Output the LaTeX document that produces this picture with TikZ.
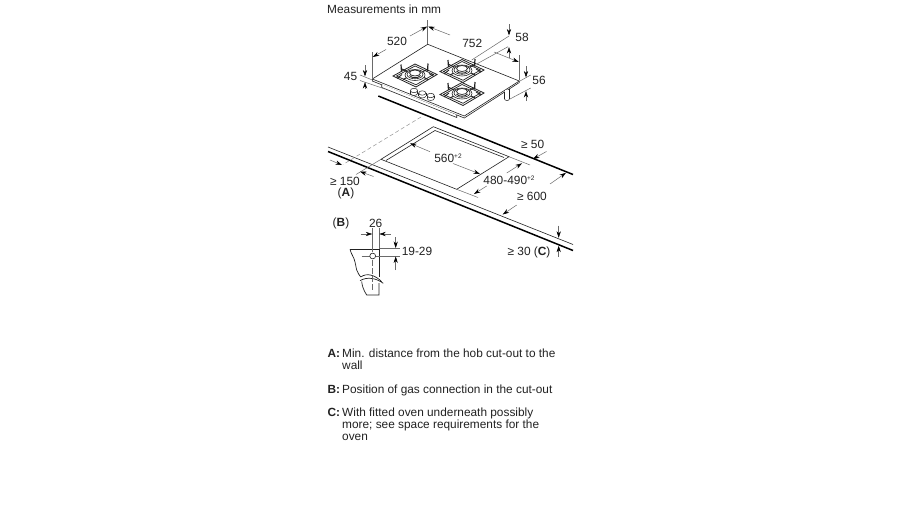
\documentclass[tikz,border=0pt]{standalone}
\usepackage{fontspec}
\setmainfont{Liberation Sans}
\usetikzlibrary{arrows.meta}
\definecolor{ink}{HTML}{222222}
\definecolor{dimc}{HTML}{6A6A6A}
\newcommand{\uppr}[1]{\raisebox{3.6pt}{\fontsize{6.5}{6.5}\selectfont #1}}
\newcommand{\burnerat}[2]{%
 \begin{scope}[shift={(#1,#2)}]
  \draw[hobl,fill=white,line width=.8pt] (-22,.5)--(0,-11.5)--(22,-1)--(1,11.5)--cycle;
  \draw[hobl,line width=.7pt] (-18.5,.5)--(0,-9.5)--(18.5,-1)--(1,9.3)--cycle;
  \draw[hobl,line width=1.1pt] (-13,-6.5)--(-7,-3.5) (13,-6.5)--(7,-3.5) (-12,4)--(-7,1.5) (13,4)--(8,1.5);
  \draw[hobl,line width=1.2pt] (-14,-11)--(-13.5,-4) (13,-12)--(12.5,-4.5);
  \draw[hobl,line width=.9pt] (-18,3)--(-13,-1) (19,1)--(14,-2);
  \draw[hobl,fill=white,line width=.6pt] (0,-.5) ellipse (10 and 5.5);
  \draw[hobl,fill=white,line width=.6pt] (0,-1) ellipse (8 and 4.3);
  \draw[hobl,fill=white,line width=.7pt] (0,-2.5) ellipse (5.5 and 3);
  \draw[hobl,line width=.9pt] (-5.5,0) .. controls (-3,3) and (3,3) .. (5.5,0);
 \end{scope}}
\newcommand{\knobat}[2]{%
 \draw[hobl,fill=white,line width=.5pt] (#1,#2+2.8) ellipse (3.6 and 2.2);
 \fill[white] (#1-3.6,#2) rectangle (#1+3.6,#2+2.8);
 \draw[hobl,line width=.5pt] (#1-3.6,#2)--(#1-3.6,#2+2.8) (#1+3.6,#2)--(#1+3.6,#2+2.8);
 \draw[hobl,fill=white,line width=.5pt] (#1,#2) ellipse (3.6 and 2.2);}
\tikzset{
 hobl/.style={draw=ink,line width=.6pt},
 dim/.style={draw=dimc,line width=.5pt},
 arr/.style={draw=dimc,line width=.5pt,-{Stealth[length=6.5pt,width=4.2pt,color=black]}},
 lab/.style={inner sep=0pt,text=ink,font=\fontsize{11.9}{12}\selectfont},
 leg/.style={inner sep=0pt,anchor=base west,text=ink,font=\fontsize{11.85}{12}\selectfont},
}
\begin{document}
\begin{tikzpicture}[x=1pt,y=-1pt]
\useasboundingbox (0,0) rectangle (900,506);
\fill[white] (0,0) rectangle (900,506);
\node[leg] (title) at (327,13.5) {Measurements in mm};
% worktop
\draw[black,line width=1.5pt] (378.3,96)--(573,174.5);
\draw[ink,line width=.6pt] (328,147)--(573,244.5);
\draw[black,line width=1.5pt] (328,151.5)--(573,250.5);
% dashed
\draw[dimc!70,line width=.5pt,dash pattern=on 4pt off 2.5pt] (421,117)--(343,164.5);
% hob
\draw[hobl,fill=white] (372.3,79)--(372.3,81)--(464.3,118)--(519.3,82.5)--(519.3,81)--(427.7,44.3)--cycle;
\draw[hobl] (372.3,79)--(464.3,116)--(519.3,81);
\draw[hobl,fill=white] (381.7,84.3)--(381.7,87.5)--(456.7,117.5)--(456.7,115);
% feet
\draw[hobl,fill=white,line width=.5pt] (507,99) ellipse (2.4 and 1.5);
\fill[white] (504.6,90) rectangle (509.4,99);
\draw[hobl,line width=.5pt] (504.6,92)--(504.6,99) (509.4,89)--(509.4,99);
\burnerat{415}{75.5}
\burnerat{462}{71}
\burnerat{462}{94}
\knobat{414}{90.5}
\knobat{422.3}{93}
\knobat{430.7}{95.5}
% dim 520
\draw[dim] (372.3,78)--(372.3,52) (427.7,44)--(427.7,20) (519.3,80)--(519.3,55);
\draw[arr] (386,49.5)--(372.8,57);
\draw[arr] (410,36)--(427.2,26.5);
\node[lab] (d520) at (397,41) {520};
% dim 752
\draw[arr] (450,35)--(428.2,26.5);
\draw[arr] (494,52)--(518.8,62);
\node[lab] (d752) at (472.3,43) {752};
% dim 58
\draw[dim] (471.7,60)--(509,36) (476.7,64)--(508,46.7);
\draw[arr] (509,24)--(509,35.5);
\draw[arr] (509,58)--(509,47);
\node[lab] (d58) at (522,37.5) {58};
% dim 45
\draw[dim] (360,75)--(372.3,80) (360,80.5)--(385,89);
\draw[arr] (365,65)--(365,76.5);
\draw[arr] (365,89)--(365,82);
\node[lab] (d45) at (350.5,76) {45};
% dim 56
\draw[dim] (520,81)--(530.7,75) (510,99)--(530.7,88);
\draw[arr] (526,66)--(526,77.5);
\draw[arr] (526,101)--(526,91);
\node[lab] (d56) at (539,80.5) {56};
% cut-out
\draw[hobl] (433.3,126.7)--(381,159.3)--(456.7,189.3)--(509,156.7)--cycle;
\draw[hobl] (435,130.5)--(386,160.5) (435,130.5)--(504,157.5);
% cut-out dims
\draw[arr] (430,151.7)--(410,143.3);
\draw[arr] (453,163.5)--(480,174);
\node[lab] (d560) at (448,158) {560\uppr{+2}};
\draw[dim] (509,156.7)--(530,165) (456.7,189.3)--(478,197.5);
\draw[arr] (506.7,173)--(522,163.3);
\draw[arr] (486.7,186)--(474,194);
\node[lab] (d480) at (509,180) {480-490\uppr{+2}};
\draw[arr] (546.5,151.5)--(533,159);
\node[lab] (d50) at (532.7,144) {≥ 50};
\draw[arr] (550,184)--(566,172.8);
\draw[arr] (516.7,205)--(502.7,214.5);
\node[lab] (d600) at (532,196) {≥ 600};
% 150
\draw[arr] (330,160)--(342,165);
\draw[dim] (381,159.3)--(356,174.5);
\draw[arr] (373.5,176.5)--(360,171.5);
\node[lab] (d150) at (345,181) {≥ 150};
\node[lab] (la) at (346,193.5) {(\textbf{A})};
% 30
\draw[arr] (558.7,225.7)--(558.7,237.8);
\draw[arr] (558.7,256.7)--(558.7,245.7);
\node[lab] (d30) at (529,252.3) {≥ 30 (\textbf{C})};
% B detail
\node[lab] (lb) at (341,223) {(\textbf{B})};
\node[lab] (d26) at (375.7,223) {26};
\draw[hobl,line width=.7pt] (350,249.3)--(379,249.3)--(379,277);
\draw[hobl,line width=.7pt] (350,249.3)
 .. controls (351,254) and (354,257) .. (355,262)
 .. controls (356,266) and (356,268) .. (356.7,270)
 .. controls (358,273) and (359,275) .. (360.7,277);
\draw[hobl,line width=.7pt] (360.7,277) .. controls (367,272.5) and (375,275) .. (381.7,281.7);
\draw[hobl,line width=.7pt] (360,280.7) .. controls (367,276.5) and (376,278) .. (383.3,283.3);
\draw[hobl,line width=.7pt] (361.7,281.5) .. controls (362,286) and (364,291) .. (366.7,295)--(379,295)--(379,283);
\draw[dim] (372.3,228)--(372.3,252);
\draw[dim,dash pattern=on 6pt off 2pt] (372.3,260)--(372.3,290);
\draw[dim] (379.3,228)--(379.3,248) (379.3,248.3)--(400,248.3) (361.7,256)--(400,256);
\draw[arr] (360.7,234)--(372.3,234);
\draw[arr] (390.7,234)--(379.3,234);
\draw[arr] (395.7,237)--(395.7,248);
\draw[arr] (395.7,270)--(395.7,256.5);
\draw[hobl,line width=.6pt,fill=white] (372.7,256) circle (2.9);
\node[lab] (d19) at (417,251.7) {19-29};
% legend
\node[leg] (a0) at (327.3,357.3) {\textbf{A:}};
\node[leg] (a1) at (342,357.3) {Min. distance from the hob cut-out to the};
\node[leg] (a2) at (342,369) {wall};
\node[leg] (b0) at (327.3,393.3) {\textbf{B:}};
\node[leg] (b1) at (342,393.3) {Position of gas connection in the cut-out};
\node[leg] (c0) at (327.3,416.3) {\textbf{C:}};
\node[leg] (c1) at (342,416.3) {With fitted oven underneath possibly};
\node[leg] (c2) at (342,428.3) {more; see space requirements for the};
\node[leg] (c3) at (342,440.3) {oven};
\end{tikzpicture}
\end{document}
